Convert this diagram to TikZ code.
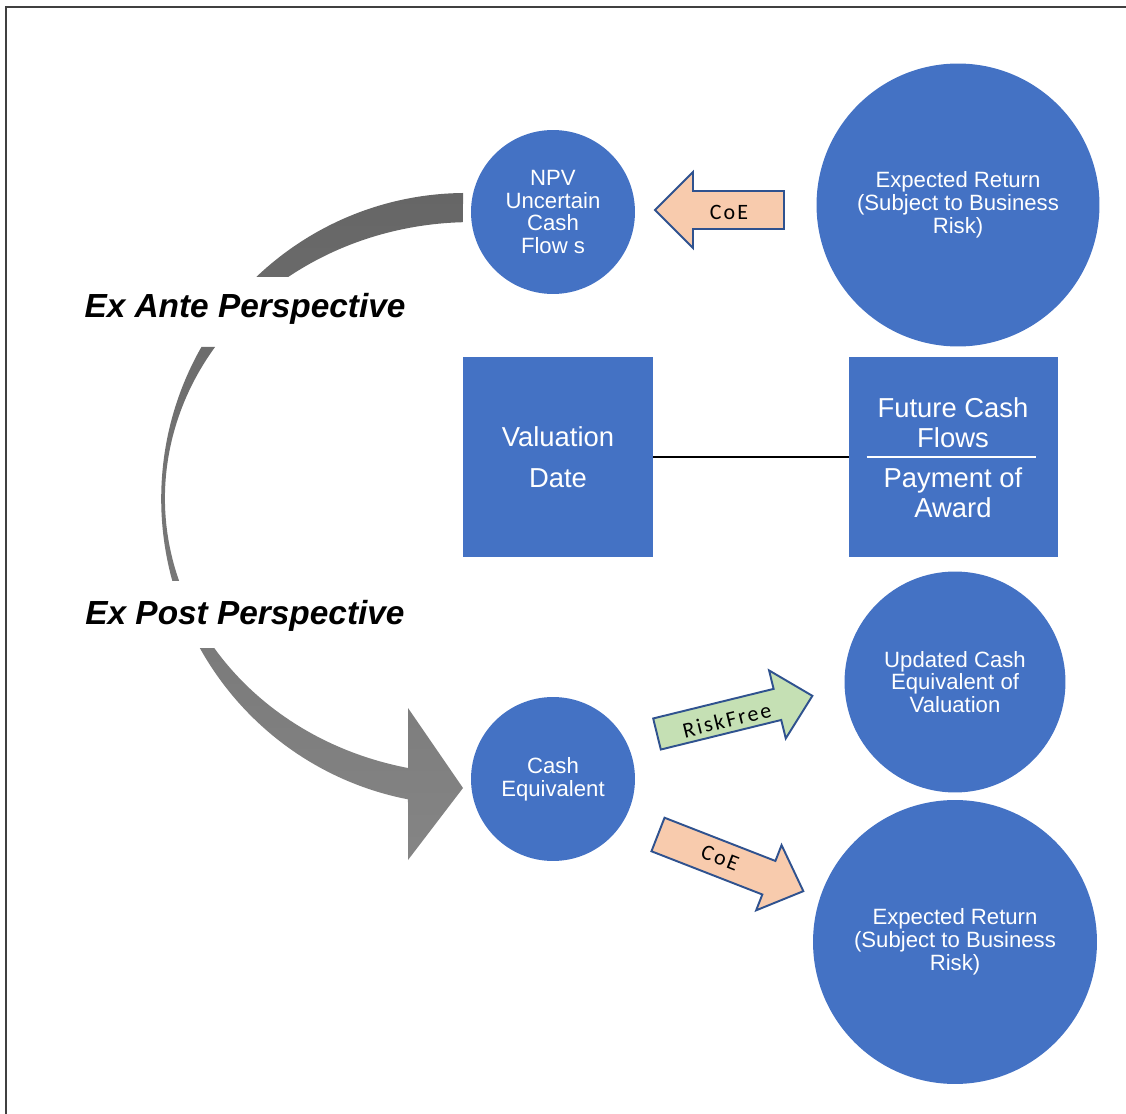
\documentclass[tikz,border=0pt]{standalone}
\usepackage{fontspec}
\setmainfont{Liberation Sans}
\newfontfamily\arrowfont[LetterSpace=10]{Carlito}
\definecolor{nodeblue}{HTML}{4472C4}
\definecolor{edgeblue}{HTML}{2F528F}
\definecolor{coefill}{HTML}{F8CBAD}
\definecolor{rffill}{HTML}{C5E0B4}

\begin{document}
\begin{tikzpicture}[x=0.02cm, y=-0.02cm,
    circ/.style={circle, fill=nodeblue, text=white, align=center, inner sep=0pt,
        font=\fontsize{12.6}{13}\selectfont},
    sqbox/.style={rectangle, fill=nodeblue, text=white, align=center, inner sep=0pt,
        minimum height=4cm, font=\fontsize{15.6}{23.2}\selectfont},
    persp/.style={anchor=base, font=\bfseries\itshape\fontsize{19}{23}\selectfont},
    blockarrow/.style={draw=edgeblue, line width=1.1pt, line join=miter},
    arrowlabel/.style={font=\arrowfont\fontsize{12.5}{14}\selectfont}]

    % Page size and frame
    \useasboundingbox (0,0) rectangle (1126,1114);
    \draw[line width=1.1pt, black!75] (6,1114) -- (6,7) -- (1126,7);

    % Big grey curved arrow, cut where the two labels sit
    \begin{scope}
        \clip (0,0) rectangle (600,277) (0,347) rectangle (600,581) (0,648) rectangle (600,1114);
        \shade[top color=black!60, bottom color=black!48]
            (463,193) arc[start angle=-90.6, end angle=-259, x radius=305, y radius=306]
            -- (408,860) -- (463,788) -- (408,708)
            -- (408,768) arc[start angle=-257.97, end angle=-91.68, x radius=307, y radius=276]
            -- cycle;
    \end{scope}

    % Perspective labels
    \node[persp] (exante) at (245,318) {Ex Ante Perspective};
    \node[persp] (expost) at (245,624) {Ex Post Perspective};

    % Circles
    \node[circ, minimum size=3.28cm] (npv) at (553,212) {NPV\\Uncertain\\Cash\\Flow s};
    \node[circ, minimum size=5.66cm] (exptop) at (958,205) {Expected Return\\(Subject to Business\\Risk)};
    \node[circ, minimum size=4.42cm] (updated) at (955,682) {Updated Cash\\Equivalent of\\Valuation};
    \node[circ, minimum size=3.28cm] (casheq) at (553,779) {Cash\\Equivalent};
    \node[circ, minimum size=5.68cm] (expbot) at (955,942) {Expected Return\\(Subject to Business\\Risk)};

    % Valuation date and future cash flows
    \node[sqbox, minimum width=3.8cm] (valbox) at (558,457) {Valuation\\Date};
    \node[sqbox, minimum width=4.18cm] (futbox) at (953.5,457) {};
    \draw[line width=0.8pt] (valbox) -- (futbox);
    \node[text=white, align=center, font=\fontsize{15.6}{17}\selectfont] (futtop) at (953,423) {Future Cash\\Flows};
    \node[text=white, align=center, font=\fontsize{15.6}{17}\selectfont] (futbot) at (953,493) {Payment of\\Award};
    \draw[white, line width=0.9pt] ([xshift=0.36cm]futbox.west) -- ([xshift=-0.44cm]futbox.east);

    % Block arrows
    \begin{scope}[shift={(784,210)}, rotate=180]
        \draw[blockarrow, fill=coefill] (0,-19) -- (91,-19) -- (91,-38) -- (129,0)
            -- (91,38) -- (91,19) -- (0,19) -- cycle;
    \end{scope}
    \node[arrowlabel] (coetop) at (729,212) {CoE};

    \begin{scope}[shift={(657,734)}, rotate=13.8]
        \draw[blockarrow, fill=rffill] (0,-16) -- (124,-16) -- (124,-35) -- (160,0)
            -- (124,35) -- (124,16) -- (0,16) -- cycle;
    \end{scope}
    \node[arrowlabel, rotate=13.8] (riskfree) at (727,720) {RiskFree};

    \begin{scope}[shift={(658,834.5)}, rotate=-21.3]
        \draw[blockarrow, fill=coefill] (0,-18) -- (119,-18) -- (119,-35) -- (156,0)
            -- (119,35) -- (119,18) -- (0,18) -- cycle;
    \end{scope}
    \node[arrowlabel, rotate=-21.3] (coebot) at (720,858) {CoE};

\end{tikzpicture}
\end{document}
